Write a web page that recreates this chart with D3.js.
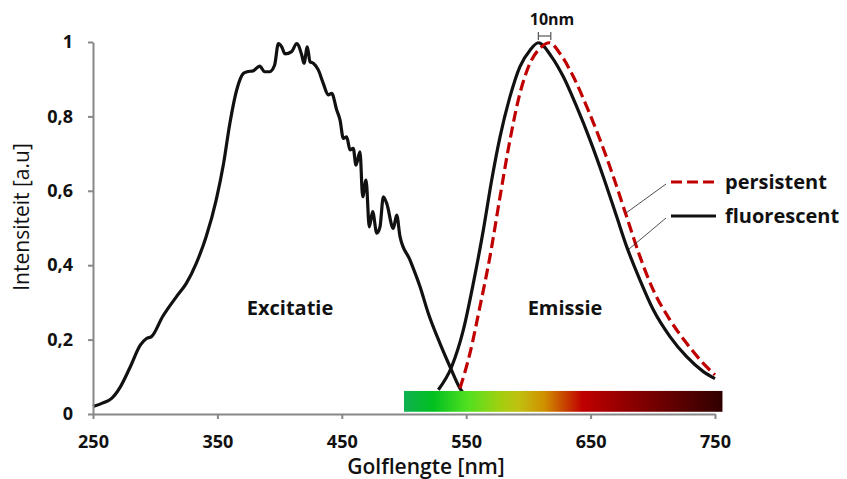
<!DOCTYPE html>
<html><head><meta charset="utf-8">
<script src="https://cdn.jsdelivr.net/npm/d3@7"></script>
<style>
html,body{margin:0;padding:0;background:#fff;}
text{font-family:"Open Sans",sans-serif;fill:#111;}
</style></head>
<body><svg id="c" width="847" height="479"></svg>
<script>
// Excitation spectrum [nm, intensity]
const excitation = [[250,0.02],[258,0.03],[265,0.042],[272,0.073],[280,0.127],[288,0.185],[293,0.203],[297,0.208],[306,0.262],[317,0.315],[325,0.351],[333,0.405],[341,0.477],[349,0.575],[355,0.674],[360,0.781],[365.5,0.871],[371,0.916],[374,0.92],[379,0.923],[384,0.935],[388,0.92],[392,0.92],[396,0.938],[399,0.996],[401.7,0.987],[404.3,0.968],[409.7,0.974],[413.7,0.996],[417.8,0.965],[419.6,0.943],[422.3,0.987],[424.4,0.947],[427.1,0.943],[431.1,0.925],[435.1,0.889],[439.1,0.858],[441.9,0.862],[445.9,0.817],[448.6,0.79],[451.2,0.741],[453.9,0.745],[456.6,0.71],[459.2,0.714],[461.4,0.669],[464.6,0.705],[466.8,0.584],[469.5,0.629],[472.1,0.503],[474.8,0.544],[478.1,0.486],[480.7,0.503],[483.4,0.584],[486.1,0.566],[491.4,0.499],[494.1,0.535],[496.8,0.477],[504.8,0.414],[512.9,0.342],[519.5,0.271],[528.9,0.19],[537,0.127],[545,0.069],[548,0.055]];
// Fluorescent emission
const fluorescent = [[527.6,0.065],[538.3,0.127],[547.7,0.226],[555.7,0.351],[563.8,0.495],[570.5,0.629],[577.2,0.745],[585.2,0.853],[593.2,0.934],[601.3,0.978],[608,0.998],[618.7,0.96],[628,0.907],[638.8,0.826],[649.5,0.737],[660.2,0.638],[671,0.53],[679,0.45],[689.7,0.36],[700.4,0.28],[713.8,0.208],[727.2,0.154],[740.6,0.114],[750,0.095]];
// Persistent emission
const persistent = [[545,0.069],[553,0.163],[561,0.288],[569.1,0.423],[577.2,0.584],[585.2,0.737],[593.2,0.862],[601.3,0.943],[609.3,0.983],[617,0.998],[625.4,0.969],[636.1,0.907],[646.9,0.826],[657.6,0.737],[668.3,0.638],[679,0.53],[689.7,0.423],[700.4,0.333],[713.8,0.253],[727.2,0.19],[740.6,0.136],[750,0.105]];
const xTicks = [250,350,450,550,650,750];
const yTicks = [0,0.2,0.4,0.6,0.8,1];
const yTickLabels = ["0","0,2","0,4","0,6","0,8","1"];
const spectrumStops = [[0,"#10b050"],[0.09,"#00c020"],[0.2,"#50e020"],[0.3,"#a0d010"],[0.36,"#c0c010"],[0.44,"#d09000"],[0.5,"#c84800"],[0.56,"#c00000"],[0.7,"#900000"],[0.85,"#600000"],[1,"#300000"]];
const spectrumRange = [500,756];
const shiftMarker = [608,618];

const svg = d3.select("#c");
const x = d3.scaleLinear().domain([250,750]).range([93,715]);
const y = d3.scaleLinear().domain([0,1]).range([414,42]);

const line = d3.line().x(d=>x(d[0])).y(d=>y(d[1])).curve(d3.curveMonotoneX);

svg.append("path").datum(excitation).attr("d",line).attr("fill","none").attr("stroke","#111").attr("stroke-width",3.2).attr("stroke-linejoin","round");
svg.append("path").datum(fluorescent).attr("d",line).attr("fill","none").attr("stroke","#111").attr("stroke-width",3.2);
svg.append("path").datum(persistent).attr("d",line).attr("fill","none").attr("stroke","#c00000").attr("stroke-width",3.2).attr("stroke-dasharray","11,5");

// spectrum bar
const defs = svg.append("defs");
const grad = defs.append("linearGradient").attr("id","spec").attr("x1","0%").attr("x2","100%");
grad.selectAll("stop").data(spectrumStops).join("stop").attr("offset",d=>d[0]).attr("stop-color",d=>d[1]);
svg.append("rect").attr("x",x(spectrumRange[0])).attr("width",x(spectrumRange[1])-x(spectrumRange[0]))
  .attr("y",y(0.062)).attr("height",y(0.006)-y(0.062)).attr("fill","url(#spec)");

// axes
const yAxis = svg.append("g").attr("transform",`translate(${x(250)},0)`)
  .call(d3.axisLeft(y).tickValues(yTicks).tickFormat((d,i)=>yTickLabels[i]).tickSize(5).tickSizeOuter(0).tickPadding(15));
const xAxis = svg.append("g").attr("transform",`translate(0,${y(0)})`)
  .call(d3.axisBottom(x).tickValues(xTicks).tickSize(5).tickSizeOuter(0).tickPadding(16));
[yAxis,xAxis].forEach(g=>{
  g.selectAll("path,line").attr("stroke","#888").attr("stroke-width",2);
  g.selectAll("text").attr("font-family","Open Sans").attr("font-weight",700).attr("font-size",18).attr("fill","#111");
});

// titles
svg.append("text").attr("x",426).attr("y",474).attr("text-anchor","middle").attr("font-size",21).attr("font-weight",600).text("Golflengte [nm]");
svg.append("text").attr("transform","translate(29,217) rotate(-90)").attr("text-anchor","middle").attr("font-size",21).attr("font-weight",500).text("Intensiteit [a.u]");

// labels
svg.append("text").attr("x",290).attr("y",315).attr("text-anchor","middle").attr("font-size",20).attr("font-weight",700).text("Excitatie");
svg.append("text").attr("x",565).attr("y",315).attr("text-anchor","middle").attr("font-size",20).attr("font-weight",700).text("Emissie");

// 10nm marker
const mg = svg.append("g").attr("stroke","#555").attr("stroke-width",1.2);
const my = 36;
mg.append("line").attr("x1",x(shiftMarker[0])).attr("x2",x(shiftMarker[1])).attr("y1",my).attr("y2",my);
mg.append("line").attr("x1",x(shiftMarker[0])).attr("x2",x(shiftMarker[0])).attr("y1",my-4).attr("y2",my+4);
mg.append("line").attr("x1",x(shiftMarker[1])).attr("x2",x(shiftMarker[1])).attr("y1",my-4).attr("y2",my+4);
svg.append("text").attr("x",552).attr("y",25).attr("text-anchor","middle").attr("font-size",16).attr("font-weight",700).text("10nm");

// legend
const legend = [{name:"persistent",color:"#c00000",dash:"11,5",ly:182,target:[626,213]},{name:"fluorescent",color:"#111",dash:null,ly:216,target:[629,249]}];
legend.forEach(l=>{
  svg.append("line").attr("x1",671).attr("x2",716).attr("y1",l.ly).attr("y2",l.ly).attr("stroke",l.color).attr("stroke-width",3.2).attr("stroke-dasharray",l.dash);
  svg.append("line").attr("x1",666).attr("y1",l.ly+2).attr("x2",l.target[0]).attr("y2",l.target[1]).attr("stroke","#222").attr("stroke-width",0.8);
  svg.append("text").attr("x",725).attr("y",l.ly+7).attr("font-size",20).attr("font-weight",700).text(l.name);
});
</script></body></html>
